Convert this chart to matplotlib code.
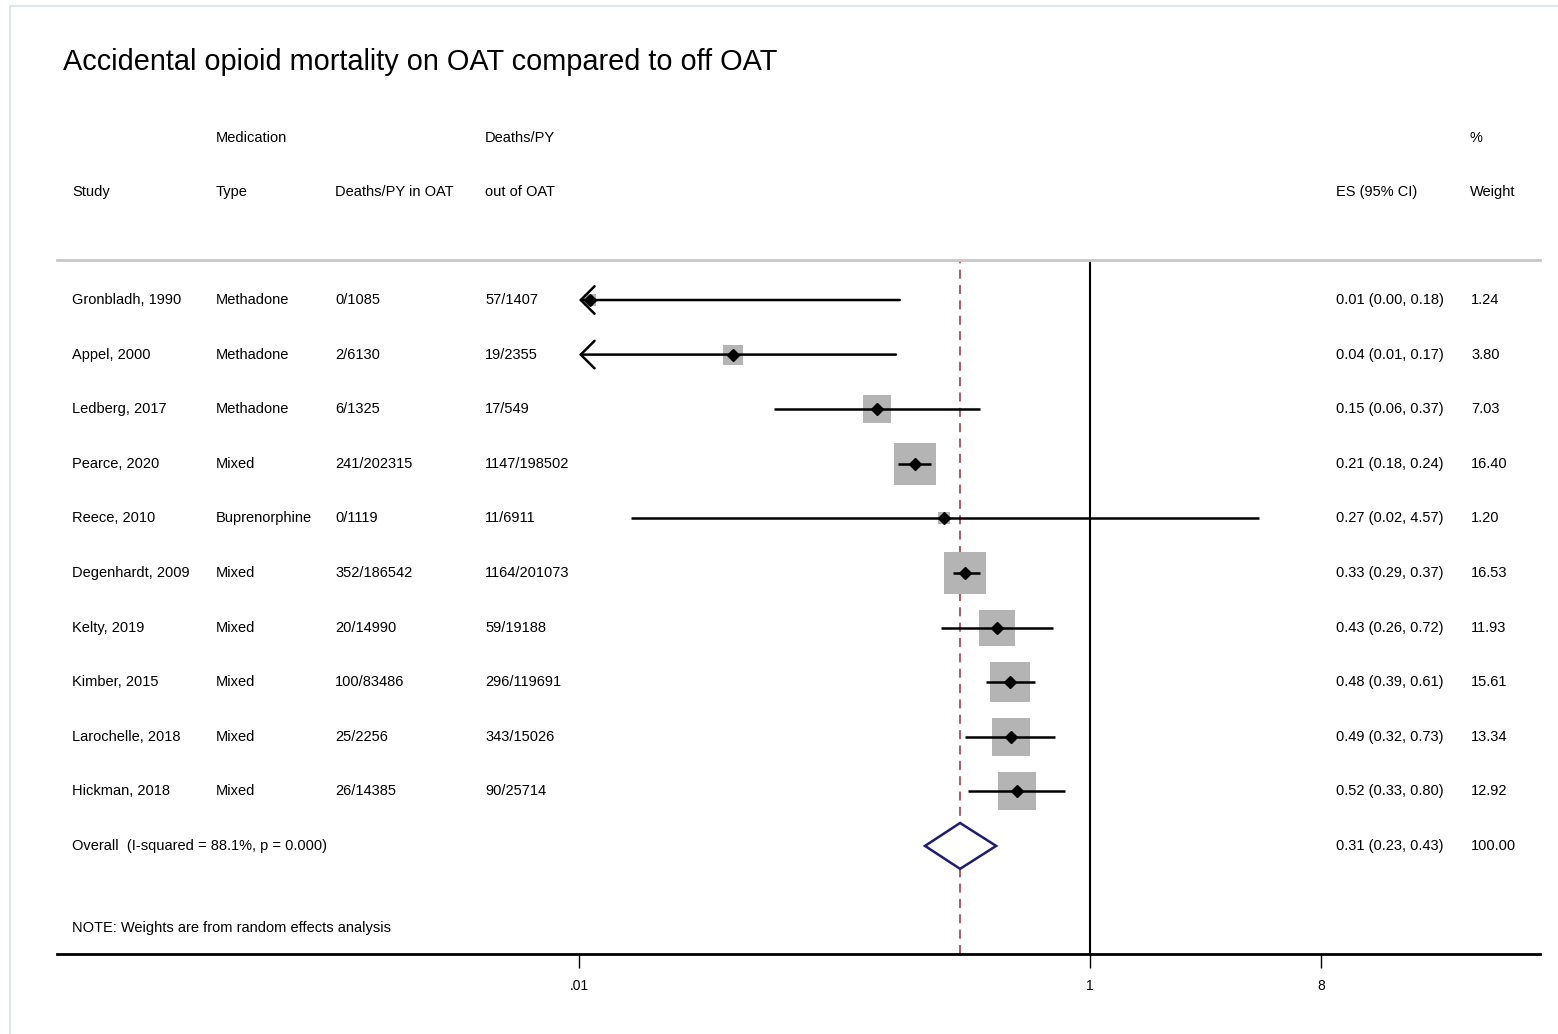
import matplotlib
matplotlib.use("Agg")
import numpy as np
import matplotlib.pyplot as plt
from matplotlib import transforms
from matplotlib.patches import Polygon
from matplotlib.lines import Line2D

plt.rcParams['font.family'] = ['Liberation Sans', 'DejaVu Sans']

studies = ["Gronbladh, 1990", "Appel, 2000", "Ledberg, 2017", "Pearce, 2020",
           "Reece, 2010", "Degenhardt, 2009", "Kelty, 2019", "Kimber, 2015",
           "Larochelle, 2018", "Hickman, 2018"]
medication = ["Methadone", "Methadone", "Methadone", "Mixed", "Buprenorphine",
              "Mixed", "Mixed", "Mixed", "Mixed", "Mixed"]
deaths_in = ["0/1085", "2/6130", "6/1325", "241/202315", "0/1119",
             "352/186542", "20/14990", "100/83486", "25/2256", "26/14385"]
deaths_out = ["57/1407", "19/2355", "17/549", "1147/198502", "11/6911",
              "1164/201073", "59/19188", "296/119691", "343/15026", "90/25714"]
es = [0.011, 0.040, 0.147, 0.207, 0.268, 0.325, 0.433, 0.484, 0.490, 0.518]
lo = [0.0005, 0.0095, 0.058, 0.177, 0.016, 0.290, 0.261, 0.390, 0.324, 0.333]
hi = [0.180, 0.174, 0.371, 0.238, 4.57, 0.370, 0.716, 0.610, 0.730, 0.798]
weight = [1.24, 3.80, 7.03, 16.40, 1.20, 16.53, 11.93, 15.61, 13.34, 12.92]
overall = (0.31, 0.226, 0.429)
overall_label = "Overall  (I-squared = 88.1%, p = 0.000)"
xticks = [0.01, 1, 8]
xtick_labels = [".01", "1", "8"]

W, H = 1558, 1034
fig = plt.figure(figsize=(W / 100, H / 100), dpi=100)


def fx(x):
    return x / W


def fy(y):
    return 1 - y / H


# light frame (left and top edges only, the rest is cropped)
fig.lines.append(Line2D([fx(10), fx(10), 1], [0, fy(6), fy(6)], transform=fig.transFigure,
                        color='#dfe7ed', lw=1.5))

ax = fig.add_axes([fx(57), fy(954), fx(1540) - fx(57), fy(260) - fy(954)])
ax.set_xscale('log')
ax.set_xlim(10 ** -4.043, 10 ** 1.761)
n = len(studies)
ax.set_ylim(11.98, -0.733)

for s in ['left', 'right']:
    ax.spines[s].set_visible(False)
ax.spines['top'].set_color('#c8c8c8')
ax.spines['top'].set_linewidth(2)
ax.spines['bottom'].set_linewidth(2)
ax.set_yticks([])
ax.set_xticks(xticks)
ax.set_xticklabels(xtick_labels)
ax.minorticks_off()
ax.tick_params(axis='x', length=10, width=1, labelsize=10, pad=8)

ax.axvline(1, color='black', lw=1.5, zorder=1)
ax.axvline(overall[0], color='#b04a55', lw=1.3, ls=(0, (5, 3.5)), zorder=1)

rows = np.arange(n)
clip = xticks[0]
for i in rows:
    side_px = 10.3 * np.sqrt(weight[i])
    ax.scatter(es[i], i, marker='s', s=(side_px * 0.72) ** 2, color='#b4b4b4',
               linewidths=0, zorder=2)
    if lo[i] < clip:
        ax.annotate('', xy=(clip, i), xytext=(hi[i], i),
                    arrowprops=dict(arrowstyle='->, head_length=0.45, head_width=0.45',
                                    lw=1.8, color='black', mutation_scale=22,
                                    shrinkA=0, shrinkB=0), zorder=3)
    else:
        ax.plot([lo[i], hi[i]], [i, i], color='black', lw=1.8, zorder=3,
                solid_capstyle='butt')
    ax.plot(es[i], i, marker='D', color='black', ms=6.5, zorder=4)

# overall diamond
yo = n
dh = 0.42
diamond = Polygon([(overall[1], yo), (overall[0], yo - dh), (overall[2], yo),
                   (overall[0], yo + dh)], closed=True, facecolor='white',
                  edgecolor='#1c1c78', lw=1.8, zorder=5)
ax.add_patch(diamond)

# text columns
tr = transforms.blended_transform_factory(fig.transFigure, ax.transData)
fs = 10.5
for i in rows:
    ax.text(fx(72), i, studies[i], transform=tr, fontsize=fs, va='center')
    ax.text(fx(216), i, medication[i], transform=tr, fontsize=fs, va='center')
    ax.text(fx(335), i, deaths_in[i], transform=tr, fontsize=fs, va='center')
    ax.text(fx(485), i, deaths_out[i], transform=tr, fontsize=fs, va='center')
    ax.text(fx(1336), i, f"{es[i]:.2f} ({lo[i]:.2f}, {hi[i]:.2f})", transform=tr,
            fontsize=fs, va='center')
    ax.text(fx(1471), i, f"{weight[i]:.2f}", transform=tr, fontsize=fs, va='center')

ax.text(fx(72), yo, overall_label, transform=tr, fontsize=fs, va='center')
ax.text(fx(1336), yo, f"{overall[0]:.2f} ({overall[1]:.2f}, {overall[2]:.2f})",
        transform=tr, fontsize=fs, va='center')
ax.text(fx(1471), yo, "100.00", transform=tr, fontsize=fs, va='center')

fig.text(fx(72), fy(928), "NOTE: Weights are from random effects analysis",
         fontsize=fs, va='center')

# headers
fig.text(fx(63), fy(62), "Accidental opioid mortality on OAT compared to off OAT",
         fontsize=20.8, va='center')
fig.text(fx(216), fy(138), "Medication", fontsize=fs, va='center')
fig.text(fx(485), fy(138), "Deaths/PY", fontsize=fs, va='center')
fig.text(fx(1470), fy(138), "%", fontsize=fs, va='center')
fig.text(fx(72), fy(192), "Study", fontsize=fs, va='center')
fig.text(fx(216), fy(192), "Type", fontsize=fs, va='center')
fig.text(fx(335), fy(192), "Deaths/PY in OAT", fontsize=fs, va='center')
fig.text(fx(485), fy(192), "out of OAT", fontsize=fs, va='center')
fig.text(fx(1336), fy(192), "ES (95% CI)", fontsize=fs, va='center')
fig.text(fx(1470), fy(192), "Weight", fontsize=fs, va='center')

fig.savefig("out.png", dpi=100)
